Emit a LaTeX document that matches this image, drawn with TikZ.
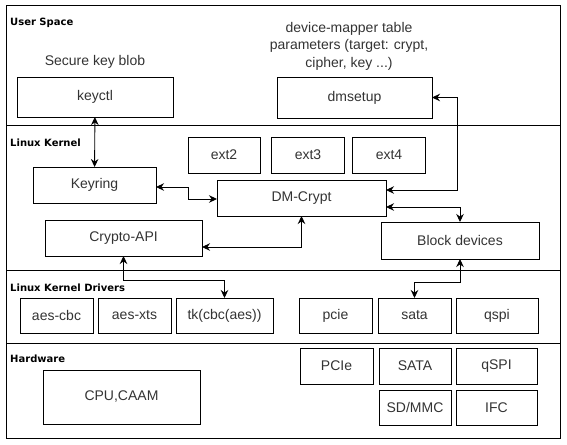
\documentclass[tikz,border=0pt]{standalone}
\usepackage{fontspec}
\setmainfont{Liberation Sans}
\newfontfamily\lanefont{DejaVu Sans}
\usetikzlibrary{arrows.meta}

\tikzset{
	box/.style={draw,line width=0.9pt,inner sep=0pt,outer sep=0pt,text=black!80,font=\fontsize{14}{17.5}\selectfont},
	lane/.style={anchor=west,inner sep=0pt,font=\lanefont\bfseries\fontsize{10}{12}\selectfont},
	link/.style={line width=0.9pt,{Stealth[length=8pt,width=7.5pt]}-{Stealth[length=8pt,width=7.5pt]}},
}

\begin{document}
\begin{tikzpicture}[x=1pt,y=-1pt]
			\useasboundingbox (0,0) rectangle (567,444);

			% layers
			\draw[line width=0.9pt] (6,5) rectangle (560,438);
			\draw[line width=0.9pt] (6,125) -- (560,125);
			\draw[line width=0.9pt] (6,270) -- (560,270);
			\draw[line width=0.9pt] (6,343) -- (560,343);
			\node[lane] (usr) at (10,23) {User Space};
			\node[lane] (krn) at (10,143) {Linux Kernel};
			\node[lane] (drv) at (10,288) {Linux Kernel Drivers};
			\node[lane] (hw) at (10,359) {Hardware};

			% User space
			\node[box,draw=none] (blob) at (95,62) {Secure key blob};
			\node[box,draw=none,align=center] (table) at (349,46) {device-mapper table\\parameters (target: crypt,\\cipher, key ...)};
			\node[box,minimum width=156pt,minimum height=40pt] (keyctl) at (95,97) {keyctl};
			\node[box,minimum width=155pt,minimum height=41pt] (dmsetup) at (354.5,97.5) {dmsetup};

			% Linux kernel
			\node[box,minimum width=72pt,minimum height=36pt] (ext2) at (224,155) {ext2};
			\node[box,minimum width=73pt,minimum height=36pt] (ext3) at (308,155) {ext3};
			\node[box,minimum width=73pt,minimum height=36pt] (ext4) at (389,155) {ext4};
			\node[box,minimum width=123pt,minimum height=36pt] (keyring) at (94.5,185) {Keyring};
			\node[box,minimum width=169pt,minimum height=36pt] (dmcrypt) at (301.5,198) {DM-Crypt};
			\node[box,minimum width=157pt,minimum height=36pt] (cryptoapi) at (123.5,238) {Crypto-API};
			\node[box,minimum width=158pt,minimum height=37pt] (blockdev) at (460,240.5) {Block devices};

			% Linux kernel drivers
			\node[box,minimum width=73pt,minimum height=35pt] (aescbc) at (56.5,315.5) {aes-cbc};
			\node[box,minimum width=73pt,minimum height=35pt] (aesxts) at (134.5,315.5) {aes-xts};
			\node[box,minimum width=97pt,minimum height=35pt] (tk) at (224.5,315.5) {tk(cbc(aes))};
			\node[box,minimum width=73pt,minimum height=35pt] (pcie) at (335.5,315.5) {pcie};
			\node[box,minimum width=73pt,minimum height=35pt] (sata) at (414.5,315.5) {sata};
			\node[box,minimum width=82pt,minimum height=35pt] (qspi) at (497,315.5) {qspi};

			% Hardware
			\node[box,minimum width=157pt,minimum height=54pt] (cpu) at (121.5,397) {CPU,CAAM};
			\node[box,minimum width=73pt,minimum height=36pt] (pcihw) at (336.5,366) {PCIe};
			\node[box,minimum width=72pt,minimum height=36pt] (satahw) at (415,366) {SATA};
			\node[box,minimum width=81pt,minimum height=36pt] (qspihw) at (496.5,366) {qSPI};
			\node[box,minimum width=72pt,minimum height=35pt] (sdmmc) at (415,407.5) {SD/MMC};
			\node[box,minimum width=81pt,minimum height=35pt] (ifc) at (496.5,407.5) {IFC};

			% connections
			\draw[link] (keyctl) -- (keyring);
			\draw[link] ([yshift=-2pt]keyring.east) -- ++(32,0) |- ([yshift=-1pt]dmcrypt.west);
			\draw[link] (dmsetup.east) -- ++(25,0) |- ([yshift=8pt]dmcrypt.east);
			\draw[link] ([yshift=-9pt]dmcrypt.east) -| (blockdev.north);
			\draw[link] ([yshift=-9pt]cryptoapi.east) -| (dmcrypt.south);
			\draw[link] (cryptoapi.south) -- ++(0,24) -| (tk.north);
			\draw[link] (blockdev.south) -- ++(0,23) -| (sata.north);
		\end{tikzpicture}
\end{document}
